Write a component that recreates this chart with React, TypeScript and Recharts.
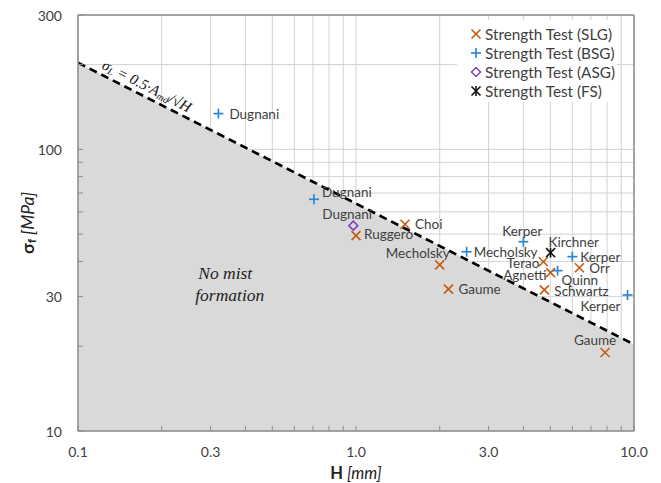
import React from "react";
import {
  Area,
  CartesianGrid,
  ComposedChart,
  Legend,
  ReferenceDot,
  ReferenceLine,
  Scatter,
  XAxis,
  YAxis,
} from "recharts";

// data (H in mm, sigma in MPa)
const slgNames = ["Ruggero", "Choi", "Mecholsky", "Gaume", "Terao", "Agnetti", "Orr", "Schwartz", "Gaume"];
const slgH = [1.0, 1.5, 2.0, 2.15, 4.72, 5.01, 6.36, 4.76, 7.87];
const slgSigma = [49.4, 54.2, 38.9, 31.9, 39.9, 36.5, 38.0, 31.7, 19.0];

const bsgNames = ["Dugnani", "Dugnani", "Mecholsky", "Kerper", "Quinn", "Kerper", "Kerper"];
const bsgH = [0.32, 0.706, 2.5, 4.0, 5.31, 6.0, 9.48];
const bsgSigma = [134, 66.5, 43.3, 47.0, 37.1, 41.6, 30.4];

const asgNames = ["Dugnani"];
const asgH = [0.978];
const asgSigma = [53.6];

const fsNames = ["Kirchner"];
const fsH = [5.01];
const fsSigma = [43.0];

// sigma_L = 0.5 * A_md / sqrt(H), end points
const limitH = [0.1, 10];
const limitSigma = [203, 20.3];

const xTicks = [0.1, 0.2, 0.3, 0.4, 0.5, 0.6, 0.7, 0.8, 0.9, 1, 2, 3, 4, 5, 6, 7, 8, 9, 10];
const xTickLabels: Record<string, string> = { "0.1": "0.1", "0.3": "0.3", "1": "1.0", "3": "3.0", "10": "10.0" };
const yTicks = [10, 20, 30, 40, 50, 60, 70, 80, 90, 100, 200, 300];
const yTickLabels: Record<string, string> = { "10": "10", "30": "30", "100": "100", "300": "300" };

const legendNames = [
  "Strength Test (SLG)",
  "Strength Test (BSG)",
  "Strength Test (ASG)",
  "Strength Test (FS)",
];

const SLG = "#c55a11";
const BSG = "#2e86d1";
const ASG = "#7f3fbf";
const FS = "#111111";
const AXIS = "#8c8c8c";
const TEXT = "#404040";
const FONT = "Lato, 'Open Sans', sans-serif";

type Off = { dx: number; dy: number; anchor: "start" | "middle" | "end" };

// where each point's name sits relative to its marker
const slgLabels: Off[] = [
  { dx: 8, dy: -2, anchor: "start" },
  { dx: 10, dy: 0, anchor: "start" },
  { dx: 10, dy: -12, anchor: "end" },
  { dx: 10, dy: 0, anchor: "start" },
  { dx: -4, dy: 1, anchor: "end" },
  { dx: -4, dy: 2, anchor: "end" },
  { dx: 10, dy: 0, anchor: "start" },
  { dx: 10, dy: 1, anchor: "start" },
  { dx: -10, dy: -12, anchor: "middle" },
];
const bsgLabels: Off[] = [
  { dx: 11, dy: 0, anchor: "start" },
  { dx: 8, dy: -7, anchor: "start" },
  { dx: 7, dy: 0, anchor: "start" },
  { dx: -1, dy: -11, anchor: "middle" },
  { dx: 4, dy: 9, anchor: "start" },
  { dx: 8, dy: 0, anchor: "start" },
  { dx: -7, dy: 11, anchor: "end" },
];
const asgLabels: Off[] = [{ dx: -31, dy: -12, anchor: "start" }];
const fsLabels: Off[] = [{ dx: -2, dy: -11, anchor: "start" }];

const toRows = (names: string[], h: number[], s: number[]) =>
  names.map((name, idx) => ({ name, idx, h: h[idx], s: s[idx] }));

const slgData = toRows(slgNames, slgH, slgSigma);
const bsgData = toRows(bsgNames, bsgH, bsgSigma);
const asgData = toRows(asgNames, asgH, asgSigma);
const fsData = toRows(fsNames, fsH, fsSigma);
const limitData = limitH.map((h, i) => ({ h, s: limitSigma[i] }));

type Kind = "x" | "plus" | "diamond" | "star";

function Marker({ kind, cx, cy, color }: { kind: Kind; cx: number; cy: number; color: string }) {
  const r = 4.5;
  if (kind === "plus") {
    return (
      <g stroke={color} strokeWidth={1.7}>
        <line x1={cx - r - 0.5} x2={cx + r + 0.5} y1={cy} y2={cy} />
        <line x1={cx} x2={cx} y1={cy - r - 0.5} y2={cy + r + 0.5} />
      </g>
    );
  }
  if (kind === "diamond") {
    return (
      <polygon
        points={`${cx},${cy - r} ${cx + r},${cy} ${cx},${cy + r} ${cx - r},${cy}`}
        fill="none"
        stroke={color}
        strokeWidth={1.5}
      />
    );
  }
  return (
    <g stroke={color} strokeWidth={1.6}>
      <line x1={cx - r} x2={cx + r} y1={cy - r} y2={cy + r} />
      <line x1={cx - r} x2={cx + r} y1={cy + r} y2={cy - r} />
      {kind === "star" && <line x1={cx} x2={cx} y1={cy - r - 0.5} y2={cy + r + 0.5} />}
    </g>
  );
}

const makeShape = (kind: Kind, color: string, offsets: Off[]) => (props: any) => {
  const { cx, cy, payload } = props;
  const o = offsets[payload.idx];
  return (
    <g>
      <Marker kind={kind} cx={cx} cy={cy} color={color} />
      <text
        x={cx + o.dx}
        y={cy + o.dy}
        textAnchor={o.anchor}
        dominantBaseline="central"
        fontFamily={FONT}
        fontSize={13.5}
        fill={TEXT}
      >
        {payload.name}
      </text>
    </g>
  );
};

function XTick(props: any) {
  const { x, y, payload } = props;
  const label = xTickLabels[String(payload.value)];
  return (
    <g>
      <line x1={x} x2={x} y1={y} y2={y - 5} stroke={AXIS} />
      {label && (
        <text x={x} y={y + 20} textAnchor="middle" dominantBaseline="central" fontFamily={FONT} fontSize={14} fill={TEXT}>
          {label}
        </text>
      )}
    </g>
  );
}

function YTick(props: any) {
  const { x, y, payload } = props;
  const label = yTickLabels[String(payload.value)];
  return (
    <g>
      <line x1={x} x2={x + 5} y1={y} y2={y} stroke={AXIS} />
      {label && (
        <text x={x - 16} y={y} textAnchor="end" dominantBaseline="central" fontFamily={FONT} fontSize={14} fill={TEXT}>
          {label}
        </text>
      )}
    </g>
  );
}

function XLabel(props: any) {
  const vb = props.viewBox;
  return (
    <text x={vb.x + vb.width / 2} y={vb.y + 42} textAnchor="middle" dominantBaseline="central" fontFamily={FONT} fontSize={16.5} fill="#222">
      <tspan fontWeight="bold">H</tspan>
      <tspan fontStyle="italic"> [mm]</tspan>
    </text>
  );
}

function YLabel(props: any) {
  const vb = props.viewBox;
  const cx = vb.x + 27;
  const cy = vb.y + vb.height / 2;
  return (
    <text
      x={cx}
      y={cy}
      transform={`rotate(-90 ${cx} ${cy})`}
      textAnchor="middle"
      dominantBaseline="central"
      fontFamily={FONT}
      fontSize={17.5}
      fill="#222"
    >
      <tspan fontWeight="bold">σ</tspan>
      <tspan fontWeight="bold" fontSize={12} dy={4}>f</tspan>
      <tspan fontStyle="italic" dy={-4}> [MPa]</tspan>
    </text>
  );
}

function Equation(props: any) {
  const { x, y } = props.viewBox;
  return (
    <text
      x={x}
      y={y}
      transform={`rotate(27 ${x} ${y})`}
      textAnchor="middle"
      dominantBaseline="central"
      fontFamily="'Liberation Serif', serif"
      fontStyle="italic"
      fontSize={15}
      fill="#111"
    >
      σ<tspan fontSize={10} dy={3}>L</tspan>
      <tspan dy={-3}> = 0.5·A</tspan>
      <tspan fontSize={10} dy={3}>md</tspan>
      <tspan dy={-3}>/√H</tspan>
    </text>
  );
}

function RegionNote(props: any) {
  const { x, y } = props.viewBox;
  return (
    <text x={x} y={y} fontFamily="'Liberation Serif', serif" fontStyle="italic" fontSize={17.5} fill="#222" dominantBaseline="central">
      <tspan x={x + 3}>No mist</tspan>
      <tspan x={x} dy={22}>formation</tspan>
    </text>
  );
}

const legendKinds: Kind[] = ["x", "plus", "diamond", "star"];
const legendColors = [SLG, BSG, ASG, FS];

function LegendBox() {
  return (
    <svg width={160} height={82}>
      {legendNames.map((name, i) => (
        <g key={name}>
          <Marker kind={legendKinds[i]} cx={19} cy={14 + i * 19} color={legendColors[i]} />
          <text x={28} y={14 + i * 19} dominantBaseline="central" fontFamily={FONT} fontSize={15.3} fill={TEXT}>
            {name}
          </text>
        </g>
      ))}
    </svg>
  );
}

export default function App() {
  return (
    <div style={{ position: "absolute", left: 0, top: 0, background: "#fff" }}>
      <ComposedChart width={661} height={483} margin={{ top: 15, right: 27, left: 0, bottom: 0 }}>
        <CartesianGrid
          stroke="#d2d2d2"
          strokeWidth={1}
          horizontalValues={yTicks}
          verticalValues={xTicks}
          syncWithTicks
        />
        <XAxis
          dataKey="h"
          type="number"
          scale="log"
          domain={[0.1, 10]}
          allowDataOverflow
          ticks={xTicks}
          interval={0}
          tick={<XTick />}
          tickLine={false}
          tickSize={0}
          tickMargin={0}
          height={52}
          axisLine={{ stroke: AXIS, strokeWidth: 1.5 }}
          label={{ content: XLabel }}
        />
        <YAxis
          dataKey="s"
          type="number"
          scale="log"
          domain={[10, 300]}
          allowDataOverflow
          ticks={yTicks}
          interval={0}
          tick={<YTick />}
          tickLine={false}
          tickSize={0}
          tickMargin={0}
          width={78}
          axisLine={{ stroke: AXIS, strokeWidth: 1.5 }}
          label={{ content: YLabel }}
        />
        <Area
          data={limitData}
          dataKey="s"
          type="linear"
          baseValue={10}
          fill="#d9d9d9"
          fillOpacity={1}
          stroke="#000"
          strokeWidth={2.6}
          strokeDasharray="8 5"
          dot={false}
          activeDot={false}
          isAnimationActive={false}
        />
        <ReferenceLine y={300} stroke={AXIS} strokeWidth={1.5} />
        <ReferenceLine x={10} stroke={AXIS} strokeWidth={1.5} />
        <ReferenceDot x={0.177} y={168} r={0} fill="none" stroke="none" ifOverflow="visible" label={{ content: Equation }} />
        <ReferenceDot x={0.264} y={36.4} r={0} fill="none" stroke="none" ifOverflow="visible" label={{ content: RegionNote }} />
        <Scatter name={legendNames[0]} data={slgData} shape={makeShape("x", SLG, slgLabels)} isAnimationActive={false} />
        <Scatter name={legendNames[1]} data={bsgData} shape={makeShape("plus", BSG, bsgLabels)} isAnimationActive={false} />
        <Scatter name={legendNames[2]} data={asgData} shape={makeShape("diamond", ASG, asgLabels)} isAnimationActive={false} />
        <Scatter name={legendNames[3]} data={fsData} shape={makeShape("star", FS, fsLabels)} isAnimationActive={false} />
        <Legend
          layout="horizontal"
          verticalAlign="middle"
          align="center"
          wrapperStyle={{ left: 457, top: 20, width: 160, height: 82, background: "#fff", lineHeight: 0 }}
          content={() => <LegendBox />}
        />
      </ComposedChart>
    </div>
  );
}
